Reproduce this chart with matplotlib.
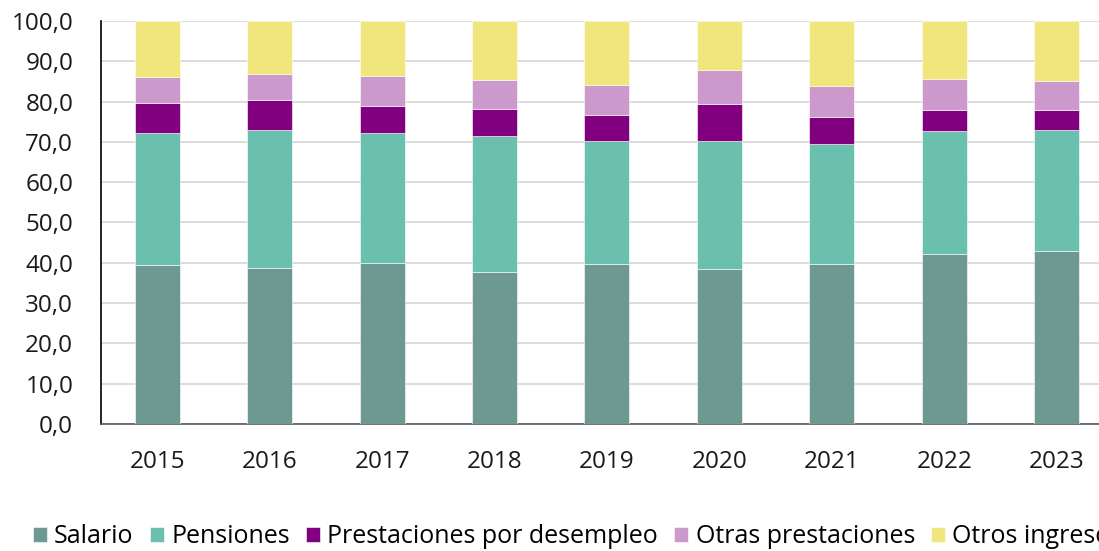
import matplotlib
matplotlib.use("Agg")
import matplotlib.pyplot as plt
import numpy as np

years = ['2015', '2016', '2017', '2018', '2019', '2020', '2021', '2022', '2023']
salario = [39.4, 38.8, 40.0, 37.6, 39.6, 38.5, 39.6, 42.3, 43.0]
pensiones = [32.7, 34.2, 32.3, 33.9, 30.7, 31.8, 29.8, 30.4, 30.0]
desempleo = [7.5, 7.3, 6.7, 6.6, 6.3, 9.1, 6.9, 5.2, 4.9]
otras_prest = [6.4, 6.6, 7.3, 7.2, 7.5, 8.4, 7.6, 7.7, 7.2]
otros_ingresos = [14.0, 13.1, 13.7, 14.7, 15.9, 12.2, 16.1, 14.4, 14.9]

series = [
    ('Salario', salario, '#6E9892'),
    ('Pensiones', pensiones, '#6BBFAE'),
    ('Prestaciones por desempleo', desempleo, '#800080'),
    ('Otras prestaciones', otras_prest, '#CC99CC'),
    ('Otros ingresos', otros_ingresos, '#F0E67C'),
]

plt.rcParams['font.family'] = ['Open Sans', 'DejaVu Sans']

fig = plt.figure(figsize=(10.99, 5.51), dpi=100)
# axes runs past the right edge on purpose (reference is cropped)
ax = fig.add_axes([0.0919, 0.2305, 0.9208, 0.7314])

x = np.arange(len(years))
bottom = np.zeros(len(years))
for name, vals, color in series:
    ax.bar(x, vals, width=0.4, bottom=bottom, color=color, label=name,
           edgecolor='white', linewidth=0.4, zorder=3)
    bottom += np.array(vals)

ax.set_xlim(-0.5, len(years) - 0.5)
ax.set_ylim(0, 100)
ax.set_yticks(np.arange(0, 101, 10))
ax.set_yticklabels([f'{v:.1f}'.replace('.', ',') for v in np.arange(0, 101, 10)])
ax.set_xticks(x)
ax.set_xticklabels(years)
ax.tick_params(axis='both', length=0, labelsize=17.5, colors='#1a1a1a')
ax.tick_params(axis='y', pad=20)
ax.tick_params(axis='x', pad=19)

ax.grid(axis='y', color='#d9d9d9', linewidth=1.3, zorder=0)
ax.set_axisbelow(True)
for s in ['top', 'right']:
    ax.spines[s].set_visible(False)
ax.spines['left'].set_color('black')
ax.spines['left'].set_linewidth(1.2)
ax.spines['bottom'].set_color('#595959')
ax.spines['bottom'].set_linewidth(1.2)

fig.legend(loc='center left', bbox_to_anchor=(0.03, 0.026), ncol=5,
           frameon=False, fontsize=18, handlelength=0.55, handleheight=0.55,
           handletextpad=0.3, columnspacing=0.65, borderaxespad=0, borderpad=0)

fig.savefig('out.png', dpi=100)
